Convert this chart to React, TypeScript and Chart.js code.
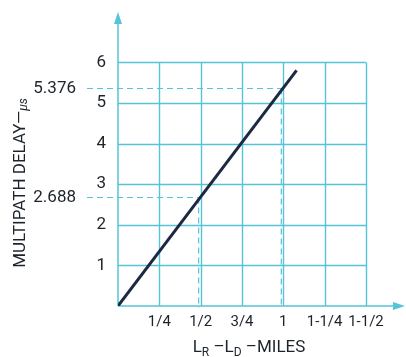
import React, { useEffect, useRef } from "react";
import { Chart, registerables } from "chart.js";

Chart.register(...registerables);

// ---- data ----
const xTickValues = [0.25, 0.5, 0.75, 1, 1.25, 1.5];
const xTickLabels = ["1/4", "1/2", "3/4", "1", "1-1/4", "1-1/2"];
const yTickValues = [1, 2, 3, 4, 5, 6];
const yTickLabels = ["1", "2", "3", "4", "5", "6"];
const lineX = [0, 1.08];
const lineY = [0, 5.806];
const markerX = [0.5, 1];
const markerY = [2.688, 5.376];
const markerLabels = ["2.688", "5.376"];
const gridMaxX = 1.5;
const gridMaxY = 6;

const FONT = "Roboto, 'Liberation Sans', sans-serif";
const CYAN = "#55c3d8";
const TEXT = "#1d232b";

const overlay = {
  id: "overlay",
  beforeDatasetsDraw(chart: any) {
    const { ctx, scales } = chart;
    const x = scales.x, y = scales.y;
    const x0 = x.getPixelForValue(0), y0 = y.getPixelForValue(0);
    ctx.save();
    // grid
    ctx.strokeStyle = CYAN;
    ctx.lineWidth = 1.4;
    const gx1 = x.getPixelForValue(gridMaxX), gy1 = y.getPixelForValue(gridMaxY);
    xTickValues.forEach((v) => {
      const px = Math.round(x.getPixelForValue(v)) + 0.5;
      ctx.beginPath(); ctx.moveTo(px, y0); ctx.lineTo(px, gy1); ctx.stroke();
    });
    yTickValues.forEach((v) => {
      const py = Math.round(y.getPixelForValue(v)) + 0.5;
      ctx.beginPath(); ctx.moveTo(x0, py); ctx.lineTo(gx1, py); ctx.stroke();
    });
    // dashed markers
    ctx.setLineDash([6, 4]);
    ctx.lineWidth = 1.2;
    markerX.forEach((mx, i) => {
      const px = x.getPixelForValue(mx) - 2;
      const py = Math.round(y.getPixelForValue(markerY[i])) + 0.5;
      ctx.beginPath(); ctx.moveTo(x0 - 31, py); ctx.lineTo(px, py); ctx.stroke();
      ctx.beginPath(); ctx.moveTo(px, py); ctx.lineTo(px, y0 + 2); ctx.stroke();
    });
    ctx.setLineDash([]);
    // axes with arrows
    ctx.strokeStyle = CYAN;
    ctx.fillStyle = CYAN;
    ctx.lineWidth = 1.5;
    const top = chart.chartArea.top, right = chart.chartArea.right;
    ctx.beginPath(); ctx.moveTo(x0, y0); ctx.lineTo(x0, top + 6); ctx.stroke();
    ctx.beginPath(); ctx.moveTo(x0, y0); ctx.lineTo(right - 6, y0); ctx.stroke();
    ctx.beginPath(); ctx.moveTo(x0, top - 3); ctx.lineTo(x0 - 4, top + 9); ctx.lineTo(x0 + 4, top + 9); ctx.closePath(); ctx.fill();
    ctx.beginPath(); ctx.moveTo(right, y0); ctx.lineTo(right - 12, y0 - 4); ctx.lineTo(right - 12, y0 + 4); ctx.closePath(); ctx.fill();
    // marker labels
    ctx.fillStyle = TEXT;
    ctx.font = `17px ${FONT}`;
    ctx.textAlign = "right";
    ctx.textBaseline = "middle";
    markerY.forEach((my, i) => {
      ctx.fillText(markerLabels[i], x0 - 42, y.getPixelForValue(my) + 1);
    });
    // x title with subscripts
    const big = `17px ${FONT}`, small = `12px ${FONT}`;
    const parts: [string, string, number][] = [
      ["L", big, 0], ["R", small, 4], [" \u2013L", big, 0], ["D", small, 4], [" \u2013MILES", big, 0],
    ];
    let total = 0;
    parts.forEach(([t, f]) => { ctx.font = f; total += ctx.measureText(t).width; });
    let cx = 249 - total / 2;
    ctx.textAlign = "left";
    ctx.textBaseline = "alphabetic";
    parts.forEach(([t, f, dy]) => {
      ctx.font = f; ctx.fillText(t, cx, 352 + dy); cx += ctx.measureText(t).width;
    });
    // y title rotated
    ctx.translate(25, 183);
    ctx.rotate(-Math.PI / 2);
    const yparts: [string, string, number][] = [
      ["MULTIPATH DELAY\u2014", `17px ${FONT}`, 0], ["\u03bcs", `italic 12px ${FONT}`, 2],
    ];
    total = 0;
    yparts.forEach(([t, f]) => { ctx.font = f; total += ctx.measureText(t).width; });
    cx = -total / 2;
    yparts.forEach(([t, f, dy]) => {
      ctx.font = f; ctx.fillText(t, cx, dy); cx += ctx.measureText(t).width;
    });
    ctx.restore();
  },
};

export default function App() {
  const ref = useRef<HTMLCanvasElement>(null);
  useEffect(() => {
    const chart = new Chart(ref.current!, {
      type: "line",
      data: {
        datasets: [
          {
            data: lineX.map((v, i) => ({ x: v, y: lineY[i] })),
            borderColor: "#1b2942",
            borderWidth: 3,
            pointRadius: 0,
            tension: 0,
          },
        ],
      },
      options: {
        animation: false,
        responsive: false,
        events: [],
        layout: { padding: { top: 15, right: 1, left: 0, bottom: 0 } },
        plugins: { legend: { display: false }, tooltip: { enabled: false } },
        scales: {
          x: {
            type: "linear",
            min: 0,
            max: 1.736,
            grid: { display: false, drawTicks: false },
            border: { display: false },
            afterBuildTicks: (s: any) => { s.ticks = xTickValues.map((v) => ({ value: v })); },
            afterFit: (s: any) => { s.height = 51; s.paddingLeft = 0; s.paddingRight = 0; },
            ticks: {
              padding: 7,
              color: TEXT,
              font: { family: FONT, size: 15 },
              maxRotation: 0,
              autoSkip: false,
              callback: (v: any) => xTickLabels[xTickValues.indexOf(Number(v))] ?? "",
            },
          },
          y: {
            type: "linear",
            min: 0,
            max: 7.17,
            grid: { display: false, drawTicks: false },
            border: { display: false },
            afterBuildTicks: (s: any) => { s.ticks = yTickValues.map((v) => ({ value: v })); },
            afterFit: (s: any) => { s.width = 118; s.paddingTop = 0; s.paddingBottom = 0; },
            ticks: {
              padding: 12,
              color: TEXT,
              font: { family: FONT, size: 17 },
              autoSkip: false,
              callback: (v: any) => yTickLabels[yTickValues.indexOf(Number(v))] ?? "",
            },
          },
        },
      },
      plugins: [overlay],
    });
    return () => chart.destroy();
  }, []);
  return (
    <div style={{ position: "absolute", left: 0, top: 0, width: 406, height: 357, background: "#fff" }}>
      <canvas ref={ref} width={406} height={357} style={{ display: "block" }} />
    </div>
  );
}
